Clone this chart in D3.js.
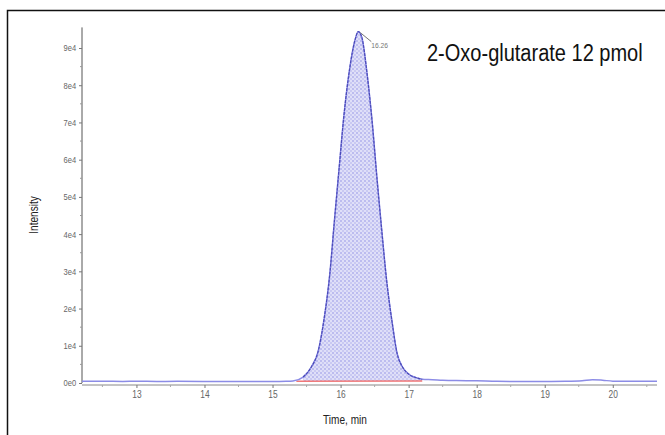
<!DOCTYPE html>
<html>
<head>
<meta charset="utf-8">
<script src="https://cdn.jsdelivr.net/npm/d3@7"></script>
<style>
  body { margin: 0; background: #fff; }
  svg { display: block; }
</style>
</head>
<body>
<svg width="665" height="435"></svg>
<script>
// chromatogram trace
const times = [12.2, 12.5, 12.8, 13.0, 13.3, 13.6, 14.0, 14.3, 14.6, 15.0, 15.2, 15.30,
  15.45, 15.57, 15.67, 15.76, 15.84, 15.91, 15.98, 16.05, 16.13, 16.21, 16.26, 16.31,
  16.39, 16.47, 16.53, 16.60, 16.68, 16.76, 16.83, 16.91, 17.00, 17.10, 17.20, 17.35,
  17.50, 17.7, 18.0, 18.3, 18.6, 19.0, 19.3, 19.55, 19.7, 19.85, 20.0, 20.3, 20.65];
const intensities = [450, 500, 420, 480, 400, 450, 420, 380, 430, 400, 450, 550,
  1600, 4300, 8500, 17500, 29000, 43700, 58000, 72000, 84000, 92000, 94400, 93000,
  83000, 69000, 56000, 42000, 27000, 16000, 8000, 4300, 2400, 1500, 1000, 900,
  750, 650, 600, 450, 420, 400, 450, 600, 900, 750, 500, 450, 500];

// integration baseline (red) under the peak
const baseTimes = [15.35, 17.2];
const baseValues = [500, 520];

const yTicks = [0, 10000, 20000, 30000, 40000, 50000, 60000, 70000, 80000, 90000];
const yTickLabels = ['0e0', '1e4', '2e4', '3e4', '4e4', '5e4', '6e4', '7e4', '8e4', '9e4'];
const xTicks = [13, 14, 15, 16, 17, 18, 19, 20];

const peakTime = 16.26;
const peakValue = 94400;
const title = '2-Oxo-glutarate 12 pmol';

(function (d3) {
  const svg = d3.select('svg');
  const font = '"Liberation Sans", Arial, sans-serif';
  // no narrow face installed, so squeeze the regular one
  const squeeze = 0.84;

  const data = times.map((t, i) => ({ t, v: intensities[i] }));
  const baseline = d3.scaleLinear().domain(baseTimes).range(baseValues);

  const xScale = d3.scaleLinear().domain([12.2, 20.65]).range([82, 657]);
  const yScale = d3.scaleLinear().domain([0, 95000]).range([383, 29.4]);

  // outer frame
  svg.append('rect')
    .attr('x', 7.5).attr('y', 10.5)
    .attr('width', 680).attr('height', 440)
    .attr('fill', 'none')
    .attr('stroke', '#111')
    .attr('stroke-width', 1.5);

  // hatched fill pattern
  const defs = svg.append('defs');
  const pat = defs.append('pattern')
    .attr('id', 'hatch')
    .attr('patternUnits', 'userSpaceOnUse')
    .attr('width', 4).attr('height', 4);
  pat.append('rect').attr('width', 4).attr('height', 4).attr('fill', '#dfdff8');
  pat.append('rect').attr('width', 2).attr('height', 2).attr('fill', '#bcbcef');
  pat.append('rect').attr('x', 2).attr('y', 2).attr('width', 2).attr('height', 2).attr('fill', '#c9c9f2');

  // peak area
  const peakData = data.filter(d => d.t >= baseTimes[0] && d.t <= baseTimes[1]);
  const area = d3.area()
    .x(d => xScale(d.t))
    .y0(d => yScale(baseline(d.t)))
    .y1(d => yScale(d.v))
    .curve(d3.curveMonotoneX);
  svg.append('path')
    .datum(peakData)
    .attr('d', area)
    .attr('fill', 'url(#hatch)');

  // red integration baseline
  svg.append('line')
    .attr('x1', xScale(baseTimes[0])).attr('y1', yScale(baseValues[0]))
    .attr('x2', xScale(baseTimes[1])).attr('y2', yScale(baseValues[1]))
    .attr('stroke', '#f07878')
    .attr('stroke-width', 1.5);

  // y axis
  const yAxis = d3.axisLeft(yScale)
    .tickValues(yTicks)
    .tickFormat((d, i) => yTickLabels[i])
    .tickSize(3)
    .tickPadding(4);
  const yAxisG = svg.append('g')
    .attr('transform', 'translate(82,0)')
    .call(yAxis);
  yAxisG.select('.domain')
    .attr('d', `M0,${yScale(95000) - 2}V${yScale(0)}`)
    .attr('stroke', '#555');
  yAxisG.selectAll('.tick line').attr('stroke', '#777');
  yAxisG.selectAll('.tick text')
    .attr('fill', '#666')
    .attr('transform', `scale(${squeeze},1)`)
    .style('font', '9px ' + font);
  // minor ticks
  svg.selectAll('.yminor')
    .data(d3.range(5000, 95000, 10000))
    .enter().append('line')
      .attr('x1', 80).attr('x2', 82)
      .attr('y1', d => yScale(d)).attr('y2', d => yScale(d))
      .attr('stroke', '#999');

  // x axis
  const xAxis = d3.axisBottom(xScale)
    .tickValues(xTicks)
    .tickFormat(d3.format('d'))
    .tickSize(3)
    .tickPadding(3);
  const xAxisG = svg.append('g')
    .attr('transform', 'translate(0,385)')
    .call(xAxis);
  xAxisG.select('.domain')
    .attr('d', `M82,0H657`)
    .attr('stroke', '#888');
  xAxisG.selectAll('.tick line').attr('stroke', '#777');
  xAxisG.selectAll('.tick text')
    .attr('fill', '#666')
    .attr('transform', `scale(${squeeze},1)`)
    .style('font', '10px ' + font);
  svg.selectAll('.xminor')
    .data(d3.range(12.5, 20.6, 1))
    .enter().append('line')
      .attr('x1', d => xScale(d)).attr('x2', d => xScale(d))
      .attr('y1', 385).attr('y2', 387)
      .attr('stroke', '#aaa');

  // trace
  const line = d3.line()
    .x(d => xScale(d.t))
    .y(d => yScale(d.v))
    .curve(d3.curveMonotoneX);
  svg.append('path')
    .datum(data)
    .attr('d', line)
    .attr('fill', 'none')
    .attr('stroke', '#8c8ce6')
    .attr('stroke-width', 1.5);
  svg.append('path')
    .datum(peakData)
    .attr('d', line)
    .attr('fill', 'none')
    .attr('stroke', '#4a4ab8')
    .attr('stroke-width', 1.2)
    .attr('stroke-dasharray', '3,1');

  // peak label
  const px = xScale(peakTime), py = yScale(peakValue);
  svg.append('line')
    .attr('x1', px + 2).attr('y1', py + 1)
    .attr('x2', px + 13).attr('y2', py + 10)
    .attr('stroke', '#777');
  svg.append('text')
    .attr('transform', `translate(${px + 13},${py + 16}) scale(${squeeze},1)`)
    .attr('fill', '#777')
    .style('font', '8px ' + font)
    .text('16.26');

  // title
  svg.append('text')
    .attr('transform', 'translate(427,61) scale(0.87,1)')
    .attr('fill', '#111')
    .style('font', '23px ' + font)
    .text(title);

  // axis labels
  svg.append('text')
    .attr('transform', `translate(38,215) rotate(-90) scale(${squeeze},1)`)
    .attr('text-anchor', 'middle')
    .attr('fill', '#222')
    .style('font', '12px ' + font)
    .text('Intensity');
  svg.append('text')
    .attr('transform', `translate(345,424) scale(${squeeze},1)`)
    .attr('text-anchor', 'middle')
    .attr('fill', '#222')
    .style('font', '12px ' + font)
    .text('Time, min');
}(d3));
</script>
</body>
</html>
